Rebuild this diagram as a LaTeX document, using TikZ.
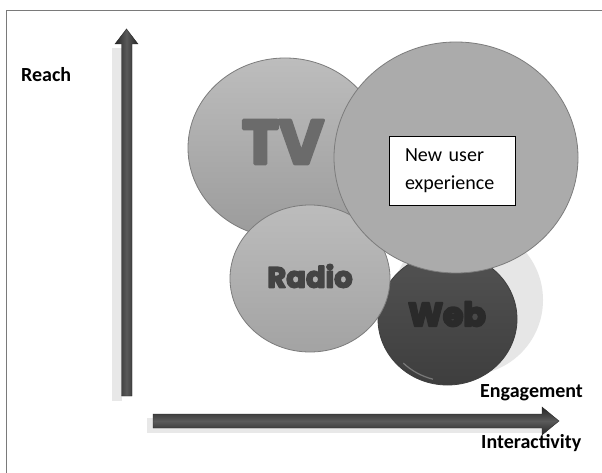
\documentclass[tikz,border=0pt]{standalone}
\usepackage{fontspec}
\setmainfont{Carlito}
\newfontfamily\roundfont{Poppins}
\usetikzlibrary{shapes.geometric}

\definecolor{framegray}{HTML}{7A7A7A}
\definecolor{bubbleedge}{HTML}{7C7C7C}
\definecolor{tvtop}{HTML}{BDBDBD}
\definecolor{tvbottom}{HTML}{9B9B9B}
\definecolor{bigfill}{HTML}{ABABAB}
\definecolor{radiotop}{HTML}{BCBCBC}
\definecolor{radiobottom}{HTML}{A3A3A3}
\definecolor{webtop}{HTML}{525252}
\definecolor{webbottom}{HTML}{3E3E3E}
\definecolor{webglow}{HTML}{E6E6E6}
\definecolor{tvtext}{HTML}{6B6B6B}
\definecolor{radiotext}{HTML}{444444}
\definecolor{webtext}{HTML}{2A2A2A}
\definecolor{axisdark}{HTML}{262626}
\definecolor{axislight}{HTML}{5A5A5A}
\definecolor{axisshadow}{HTML}{E8E8E8}

% heavy rounded lettering: glyphs are filled and stroked with round joins
\newcommand\heavyglyphs[2]{%
  \special{pdf:literal direct #1 w 1 j 2 Tr}#2\special{pdf:literal direct 0 Tr}}

\tikzset{
  bubble/.style={ellipse, draw=bubbleedge, line width=0.8pt, inner sep=0pt},
  bubbletext/.style={inner sep=0pt},
  axislabel/.style={font=\fontsize{20}{24}\selectfont\bfseries, inner sep=0pt, anchor=west},
}

\begin{document}
\begin{tikzpicture}[x=1pt, y=-1pt]
  \useasboundingbox (0,0) rectangle (602,473);
  \fill[white] (0,0) rectangle (602,473);

  % outer frame (top and left edges)
  \draw[framegray, line width=0.8pt] (604,10.5) -- (6.5,10.5) -- (6.5,476);

  % soft shadows of the two axes
  \fill[axisshadow] (112,48) rectangle (122,401);
  \fill[axisshadow] (147,418) rectangle (547,433);

  % vertical axis (Reach)
  \shade[left color=axisdark, right color=axisdark, middle color=axislight, draw=axisdark, line width=0.4pt]
    (121.5,396) -- (121.5,44) -- (115,44) -- (126.5,29) -- (138,44) -- (132,44) -- (132,396) -- cycle;

  % horizontal axis (Interactivity)
  \shade[top color=axisdark, bottom color=axisdark, middle color=axislight, draw=axisdark, line width=0.4pt]
    (153,414) -- (542,414) -- (542,407) -- (559,421) -- (542,435) -- (542,428) -- (153,428) -- cycle;

  % axis labels
  \node[axislabel] (reach) at (21,75) {Reach};
  \node[axislabel] (engagement) at (480,393) {Engagement};
  \node[axislabel] (interactivity) at (481,443) {Interactivity};

  % Web bubble with its pale glow
  \node[ellipse, fill=webglow, minimum width=150pt, minimum height=150pt, inner sep=0pt] (webglow) at (468,300) {};
  \node[bubble, draw=webbottom, top color=webtop, bottom color=webbottom, minimum width=139pt, minimum height=132pt] (web) at (447.5,319) {};
  \draw[white, opacity=0.3, line width=1.2pt] ([shift={(4,-4)}]web.225) arc[start angle=225, end angle=255, x radius=66pt, y radius=62pt];

  % TV bubble
  \node[bubble, top color=tvtop, bottom color=tvbottom, minimum width=194pt, minimum height=180pt] (tv) at (285,148) {};

  % Radio bubble
  \node[bubble, top color=radiotop, bottom color=radiobottom, minimum width=160pt, minimum height=147pt] (radio) at (310,278.5) {};

  % large bubble for the new experience
  \node[bubble, fill=bigfill, minimum width=244pt, minimum height=231pt] (big) at (456,157.5) {};

  % bubble captions
  \node[bubbletext, text=tvtext, font=\roundfont\bfseries\fontsize{62}{62}\selectfont] (tvlabel) at (283,142)
    {\heavyglyphs{3.2}{TV}};
  \node[bubbletext, text=radiotext, font=\roundfont\bfseries\fontsize{29}{29}\selectfont] (radiolabel) at (310,276)
    {\heavyglyphs{1.6}{Radio}};
  \node[bubbletext, text=webtext, font=\roundfont\bfseries\fontsize{33}{33}\selectfont] (weblabel) at (447,314)
    {\heavyglyphs{2.2}{Web}};

  % caption box
  \node[draw=black, line width=0.9pt, fill=white, text width=94pt, inner xsep=16pt, inner ysep=0pt,
        minimum height=69pt, align=left, font=\fontsize{20}{28}\selectfont] (newux) at (452,170.5)
        {New user\\experience};
\end{tikzpicture}
\end{document}
